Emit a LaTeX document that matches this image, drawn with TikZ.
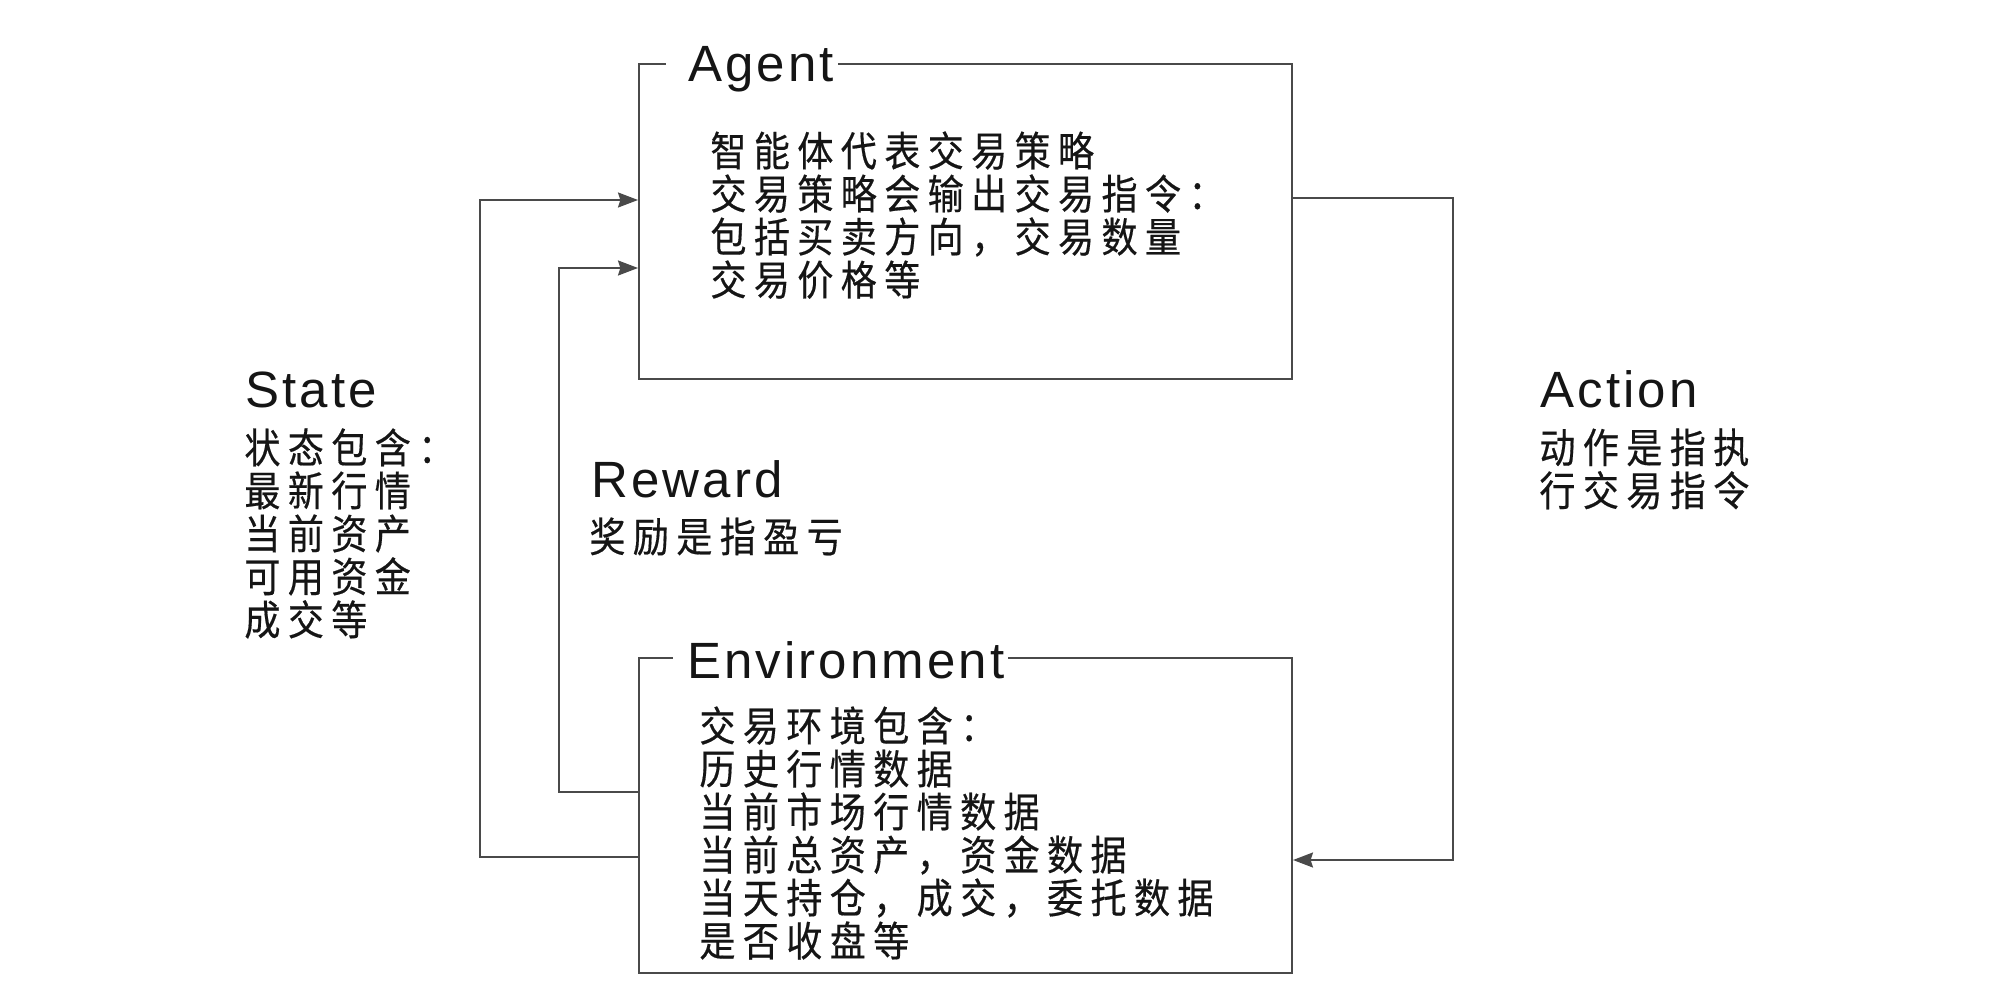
\documentclass[tikz,border=0pt]{standalone}
\usepackage{fontspec}
\setmainfont{Liberation Sans}
\newfontfamily\cjkfont[FakeStretch=0.88,FakeBold=0.4,LetterSpace=18]{Noto Sans CJK SC}
\newfontfamily\titlefont[LetterSpace=6]{Liberation Sans}
\usetikzlibrary{arrows.meta}
\definecolor{linegray}{HTML}{4A4A4A}
\definecolor{inkc}{HTML}{151515}
\begin{document}
\begin{tikzpicture}[x=0.5pt,y=-0.5pt,
  mainbox/.style={draw=linegray,line width=1pt,inner sep=0pt,minimum width=326.5pt,minimum height=157.5pt},
  boxtitle/.style={fill=white,inner xsep=0pt,inner ysep=3pt,anchor=base west,font=\titlefont\fontsize{25.5}{30}\selectfont,text=inkc},
  sidetitle/.style={inner sep=0pt,anchor=base west,font=\titlefont\fontsize{25.5}{30}\selectfont,text=inkc},
  bodytext/.style={inner sep=0pt,anchor=north west,align=left,font=\cjkfont\fontsize{20.5}{21.5}\selectfont,text=inkc},
  conn/.style={draw=linegray,line width=1pt},
  arr/.style={conn,-{Stealth[length=10pt,width=7.5pt,inset=1.2pt]}}]
\useasboundingbox (0,0) rectangle (2000,1000);
\fill[white] (0,0) rectangle (2000,1000);

% boxes
\node[mainbox] (agent) at (965.5,221.5) {};
\node[mainbox] (env) at (965.5,815.5) {};

% box titles
\node[boxtitle] (agentT) at (666,82) {\hspace*{11pt}Agent\hspace*{2pt}};
\node[boxtitle] (envT) at (673,678) {\hspace*{7pt}Environment\hspace*{2pt}};

% box texts
\node[bodytext] (agentX) at (710,131) {智能体代表交易策略\\交易策略会输出交易指令：\\包括买卖方向，交易数量\\交易价格等};
\node[bodytext] (envX) at (699,706) {交易环境包含：\\历史行情数据\\当前市场行情数据\\当前总资产，资金数据\\当天持仓，成交，委托数据\\是否收盘等};

% side labels
\node[sidetitle] (stateT) at (245,407) {State};
\node[bodytext] (stateX) at (244,428) {状态包含：\\最新行情\\当前资产\\可用资金\\成交等};
\node[sidetitle] (rewardT) at (591,497) {Reward};
\node[bodytext] (rewardX) at (589,517) {奖励是指盈亏};
\node[sidetitle] (actionT) at (1540,407) {Action};
\node[bodytext] (actionX) at (1539,428) {动作是指执\\行交易指令};

% connector corners
\coordinate (stT) at (480,200);
\coordinate (stB) at (480,857);
\coordinate (rwT) at (559,268);
\coordinate (rwB) at (559,792);
\coordinate (acT) at (1453,198);
\coordinate (acB) at (1453,860);

% connectors
\draw[arr] (env.west |- stB) -- (stB) -- (stT) -- (agent.west |- stT);
\draw[arr] (env.west |- rwB) -- (rwB) -- (rwT) -- (agent.west |- rwT);
\draw[arr] (agent.east |- acT) -- (acT) -- (acB) -- (env.east |- acB);
\end{tikzpicture}
\end{document}
